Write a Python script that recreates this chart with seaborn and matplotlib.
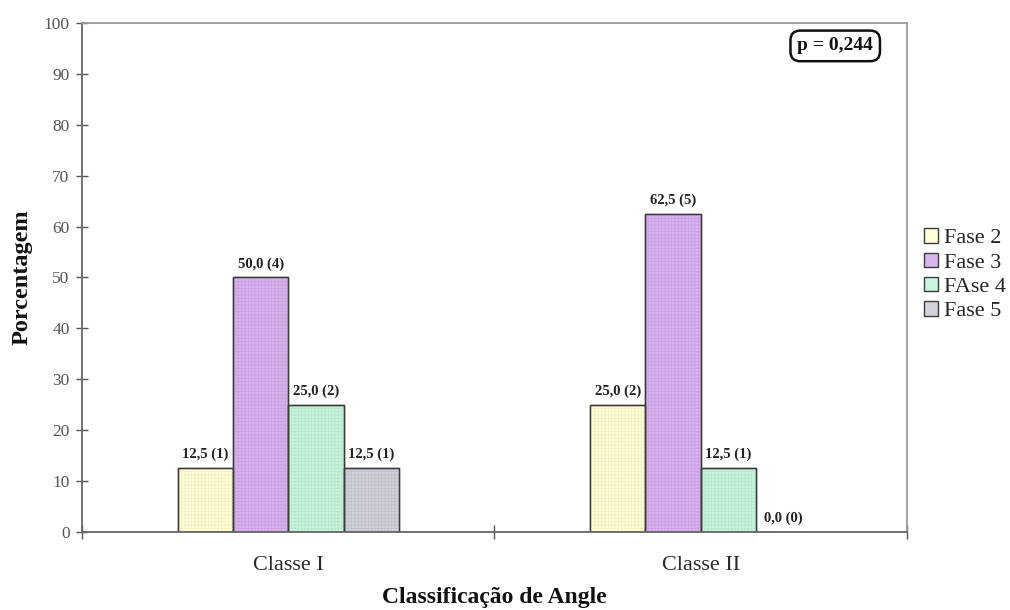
import matplotlib
matplotlib.use("Agg")
import matplotlib.pyplot as plt
from matplotlib.patches import Rectangle
from matplotlib.ticker import FixedLocator
import seaborn as sns
import pandas as pd

# Data
classes = ["Classe I", "Classe II"]
fases = ["Fase 2", "Fase 3", "FAse 4", "Fase 5"]
pct_classe_i = [12.5, 50.0, 25.0, 12.5]
pct_classe_ii = [25.0, 62.5, 12.5, 0.0]
n_classe_i = [1, 4, 2, 1]
n_classe_ii = [2, 5, 1, 0]
y_ticks = list(range(0, 101, 10))
p_text = "p = 0,244"

fill_colors = ["#FFFFD9", "#D9B4EF", "#C9F4DD", "#D2D2DA"]
hatch_colors = ["#F2F0C4", "#C9A0E2", "#B6E6CC", "#C0C0CA"]

rows = []
for cls, pcts, ns in [(classes[0], pct_classe_i, n_classe_i),
                      (classes[1], pct_classe_ii, n_classe_ii)]:
    for f, p, n in zip(fases, pcts, ns):
        rows.append({"classe": cls, "fase": f, "pct": p, "n": n})
df = pd.DataFrame(rows)

sns.set_style("white")
plt.rcParams["font.family"] = ["Liberation Serif", "DejaVu Serif"]
plt.rcParams["hatch.linewidth"] = 0.6

fig = plt.figure(figsize=(10.1, 6.1), dpi=100)
ax = fig.add_axes([0.0812, 0.1279, 0.8168, 0.8344])

sns.barplot(data=df, x="classe", y="pct", hue="fase", order=classes,
            hue_order=fases, palette=fill_colors, width=0.536, gap=0,
            edgecolor="#3a3a3a", linewidth=1.0, saturation=1,
            errorbar=None, ax=ax)

# Fine grid texture over each bar, then a crisp outline
for i, cont in enumerate(ax.containers):
    for bar in cont:
        ax.add_patch(Rectangle(bar.get_xy(), bar.get_width(), bar.get_height(),
                               facecolor="none", edgecolor=hatch_colors[i],
                               hatch="+++++", linewidth=0, zorder=bar.get_zorder()))
        ax.add_patch(Rectangle(bar.get_xy(), bar.get_width(), bar.get_height(),
                               facecolor="none", edgecolor="#3a3a3a",
                               linewidth=1.0, zorder=bar.get_zorder() + 0.1))

# Value labels "xx,x (n)"
for i, cont in enumerate(ax.containers):
    f = fases[i]
    sub = df[df["fase"] == f].set_index("classe").loc[classes]
    labels = [f"{p:.1f}".replace(".", ",") + f" ({n})" for p, n in zip(sub["pct"], sub["n"])]
    ax.bar_label(cont, labels=labels, padding=5, fontsize=10.5,
                 fontweight="bold", color="#222222")

ax.set_ylim(0, 100)
ax.set_xlim(-0.5, 1.5)
ax.set_yticks(y_ticks)
ax.tick_params(axis="y", left=True, direction="inout", length=8, width=1.0,
               colors="#555555", labelsize=12.5, pad=5)
ax.tick_params(axis="x", which="major", bottom=True, length=0, labelsize=16,
               labelcolor="#2a2a2a", pad=17)
ax.xaxis.set_minor_locator(FixedLocator([-0.5, 0.5, 1.5]))
ax.tick_params(axis="x", which="minor", bottom=True, direction="inout",
               length=10, width=1.0, color="#555555")

for side in ["left", "bottom"]:
    ax.spines[side].set_color("#666666")
    ax.spines[side].set_linewidth(1.3)
for side in ["top", "right"]:
    ax.spines[side].set_visible(True)
    ax.spines[side].set_color("#999999")
    ax.spines[side].set_linewidth(1.3)

ax.set_xlabel("Classificação de Angle", fontsize=17, fontweight="bold",
              labelpad=9, color="#111111")
ax.set_ylabel("Porcentagem", fontsize=17.5, fontweight="bold",
              labelpad=8, color="#111111")

handles, labels = ax.get_legend_handles_labels()
ax.legend(handles, labels, loc="center left", bbox_to_anchor=(1.005, 0.505),
          frameon=False, fontsize=16, handlelength=0.6, handleheight=0.6,
          handletextpad=0.3, labelspacing=0.2, borderaxespad=0.2)

ax.text(0.913, 0.955, p_text, transform=ax.transAxes, ha="center",
        va="center", fontsize=14, fontweight="bold", color="#111111",
        bbox=dict(boxstyle="round,pad=0.35,rounding_size=0.5",
                  facecolor="white", edgecolor="#111111", linewidth=1.8))

fig.savefig("out.png", dpi=100)
